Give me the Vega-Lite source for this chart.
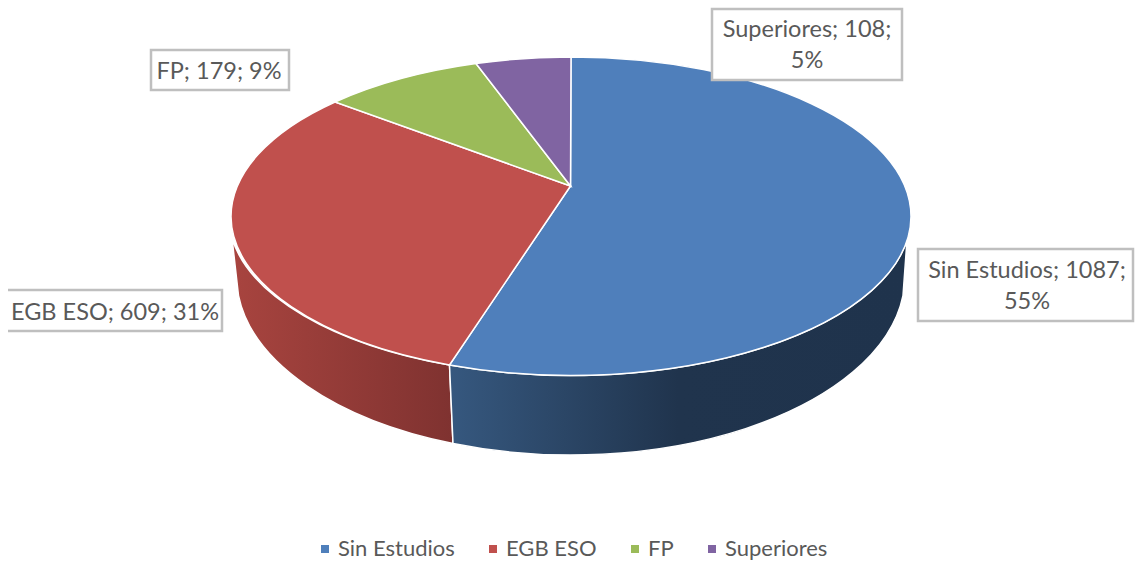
{"$schema":"https://vega.github.io/schema/vega-lite/v6.json","width":1137,"height":562,"padding":0,"autosize":"none","background":"white","config":{"view":{"stroke":null}},
"data":{"values":[
{"category":"Sin Estudios","value":1087,"percent":55,"label":"Sin Estudios; 1087;\n55%"},
{"category":"EGB ESO","value":609,"percent":31,"label":"EGB ESO; 609; 31%"},
{"category":"FP","value":179,"percent":9,"label":"FP; 179; 9%"},
{"category":"Superiores","value":108,"percent":5,"label":"Superiores; 108;\n5%"}]},
"layer":[
{"transform":[{"filter":"datum.category==='EGB ESO'"}],"mark":{"type":"point","filled":true,"opacity":1,"size":4,"shape":"M-336.5,-43A340 159.5 0 0 0 -119,84L-115.5,162.5A334 179 0 0 1 -330,14.6Z","stroke":"white","strokeWidth":1.5,"fill":{"gradient":"linear","x1":0,"y1":0,"x2":1,"y2":0,"stops":[{"offset":0,"color":"#a8443f"},{"offset":1,"color":"#7f3230"}]}},"encoding":{}},
{"transform":[{"filter":"datum.category==='Sin Estudios'"}],"mark":{"type":"point","filled":true,"opacity":1,"size":4,"shape":"M-119,84A340 159.5 0 0 0 338.5,-41L334.5,14.6A334 179 0 0 1 -115.5,162.5Z","stroke":"white","strokeWidth":1.5,"fill":{"gradient":"linear","x1":0,"y1":0,"x2":1,"y2":0,"stops":[{"offset":0,"color":"#36587f"},{"offset":0.5,"color":"#20344d"},{"offset":1,"color":"#1f334c"}]}},"encoding":{}},
{"mark":{"type":"point","filled":true,"opacity":1,"size":4,"stroke":"white","strokeWidth":1.5},"encoding":{
"color":{"field":"category","type":"nominal","scale":{"domain":["Sin Estudios","EGB ESO","FP","Superiores"],"range":["#4f7fbb","#c0504d","#9bbb59","#8064a2"]},"legend":{"orient":"none","legendX":314,"legendY":538,"direction":"horizontal","columns":4,"title":null,"symbolType":"square","symbolSize":64,"symbolStrokeWidth":0,"symbolOpacity":1,"labelFont":"Lato","labelFontSize":22,"labelColor":"#595959","labelLimit":200,"columnPadding":27,"labelOffset":2,"symbolOffset":0}},
"shape":{"field":"category","type":"nominal","scale":{"domain":["Sin Estudios","EGB ESO","FP","Superiores"],"range":["M2,-95L2.5,-224A340 159.5 0 0 1 342.5,-64.5A340 159.5 0 0 1 -119,84Z","M2,-95L-119,84A340 159.5 0 0 1 -337.5,-64.5A340 159.5 0 0 1 -233.5,-179Z","M2,-95L-233.5,-179A340 159.5 0 0 1 -92.5,-217.5Z","M2,-95L-92.5,-217.5A340 159.5 0 0 1 2.5,-224Z"]},"legend":null}}},
{"mark":{"type":"point","filled":true,"opacity":1,"size":4,"fill":"white","stroke":"#bfbfbf","strokeWidth":2.5},"encoding":{
"shape":{"field":"label","type":"nominal","scale":{"domain":["Sin Estudios; 1087;\n55%","EGB ESO; 609; 31%","FP; 179; 9%","Superiores; 108;\n5%"],"range":["M349.5,-32L564.5,-32L564.5,40L349.5,40Z","M-560.5,9L-346.5,9L-346.5,50L-560.5,50","M-417.5,-231L-279.5,-231L-279.5,-191L-417.5,-191Z","M143.5,-272L333.5,-272L333.5,-201L143.5,-201Z"]},"legend":null}}},
{"mark":{"type":"text","font":"Lato","fontSize":23.5,"color":"#595959","align":"center","baseline":"middle","lineBreak":"\n","lineHeight":31},"encoding":{
"text":{"field":"label","type":"nominal"},
"x":{"field":"value","type":"quantitative","axis":null,"scale":{"domain":[108,179,609,1087],"range":[807,219,115,1027],"zero":false,"nice":false}},
"y":{"field":"value","type":"quantitative","axis":null,"scale":{"domain":[108,179,609,1087],"range":[30,72,313,271],"zero":false,"nice":false}}}}
],"resolve":{"scale":{"shape":"independent"}}}
